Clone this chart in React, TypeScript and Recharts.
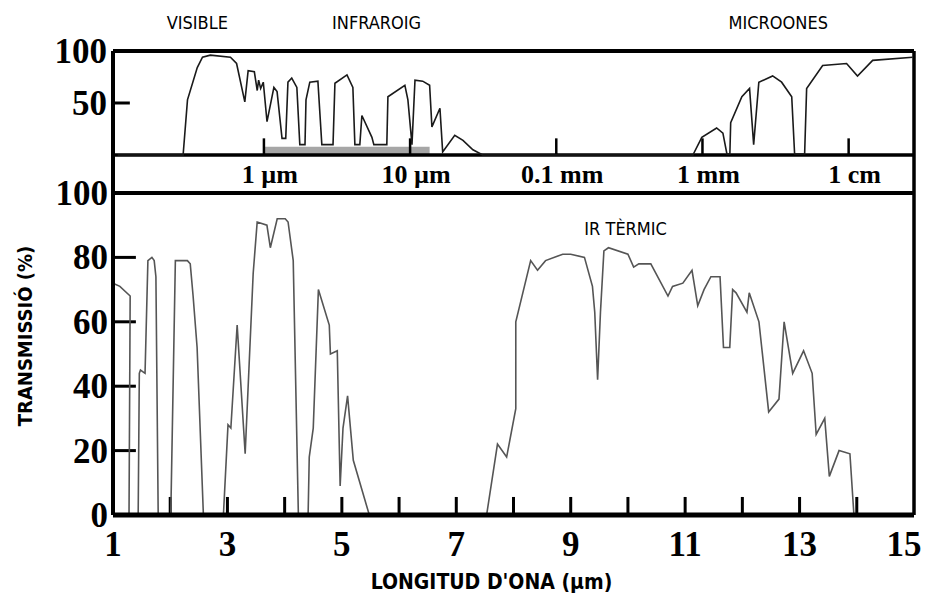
import React from "react"
import { ComposedChart, Line, XAxis, YAxis, ReferenceLine, ReferenceArea, ReferenceDot } from "recharts"

const SERIF = '"Liberation Serif", "Times New Roman", "DejaVu Serif", serif'
const NARROW = '"DejaVu Sans Condensed", "Liberation Sans Narrow", "Open Sans", sans-serif'
const INK = "#000"

// top panel: whole spectrum (µm, log scale)
const topWavelength = [
  0.1, 0.28, 0.3, 0.35, 0.38, 0.43, 0.59, 0.65, 0.74, 0.78, 0.86, 0.9, 0.92, 0.95, 0.99, 1.05, 1.17, 1.23, 1.33,
  1.41, 1.46, 1.55, 1.68, 1.76, 1.91, 1.94, 2.06, 2.34, 2.49, 2.97, 3.06, 3.7, 4.06, 4.19, 4.53, 4.68, 5.48, 5.65,
  6.93, 7.05, 9.21, 9.66, 10.3, 10.8, 12.2, 13.6, 14.1, 16.0, 16.7, 20.2, 23.0, 26.9, 31.4, 860, 990, 1250, 1380,
  1470, 1540, 1560, 1860, 2100, 2240, 2430, 3020, 3480, 4080, 4270, 5000, 5160, 6640, 9680, 11500, 14600, 27400,
]
const topTransmission = [
  0, 0, 53, 84, 94, 96, 94, 88, 51, 81, 80, 62, 72, 64, 70, 32, 65, 61, 16, 16, 70, 74, 65, 10, 10, 53, 70, 71, 10,
  10, 69, 77, 65, 10, 10, 38, 17, 10, 10, 56, 67, 53, 10, 72, 71, 67, 27, 45, 3, 19, 14, 5, 0, 0, 17, 26, 21, 1, 1,
  31, 56, 64, 10, 70, 76, 70, 56, 1, 1, 64, 86, 88, 76, 91, 94,
]
const topYTicks = [50, 100]
const scaleTicks = [1, 10, 100, 1000, 10000]
const scaleLabels = ["1 µm", "10 µm", "0.1 mm", "1 mm", "1 cm"]
const bandNames = ["VISIBLE", "INFRAROIG", "MICROONES"]
const bandCenters = [0.35, 5.9, 3300]
const highlight = [1, 13.6] // grey bar: range of the lower panel

// bottom panel: 1-15 µm
const bottomWavelength = [
  1.0, 1.12, 1.3, 1.28, 1.44, 1.46, 1.48, 1.56, 1.61, 1.68, 1.72, 1.75, 1.79, 2.01, 2.09, 2.3, 2.35, 2.4, 2.47, 2.58,
  2.93, 3.01, 3.06, 3.17, 3.31, 3.45, 3.52, 3.69, 3.75, 3.87, 4.01, 4.06, 4.15, 4.24, 4.41, 4.43, 4.5, 4.59, 4.78,
  4.8, 4.92, 4.97, 5.02, 5.1, 5.2, 5.48, 7.53, 7.72, 7.88, 8.04, 8.04, 8.3, 8.42, 8.56, 8.86, 9.0, 9.24, 9.38, 9.42,
  9.47, 9.52, 9.58, 9.66, 10.0, 10.1, 10.19, 10.4, 10.7, 10.78, 10.96, 11.12, 11.22, 11.33, 11.45, 11.61, 11.67,
  11.78, 11.83, 11.89, 12.08, 12.12, 12.29, 12.46, 12.64, 12.73, 12.88, 13.07, 13.22, 13.29, 13.44, 13.52, 13.69,
  13.88, 13.95, 15.0,
]
const bottomTransmission = [
  72, 71, 68, 0, 0, 44, 45, 44, 79, 80, 79, 74, 0, 0, 79, 79, 78, 68, 52, 0, 0, 28, 27, 59, 19, 75, 91, 90, 83, 92,
  92, 91, 79, 0, 0, 18, 27, 70, 59, 50, 51, 9, 27, 37, 17, 0, 0, 22, 18, 33, 60, 79, 76, 79, 81, 81, 80, 71, 63, 42,
  63, 82, 83, 81, 77, 78, 78, 68, 71, 72, 76, 65, 70, 74, 74, 52, 52, 70, 69, 63, 69, 60, 32, 36, 60, 44, 51, 44, 25,
  30, 12, 20, 19, 0, 0,
]
const xTicks = [1, 2, 3, 4, 5, 6, 7, 8, 9, 10, 11, 12, 13, 14, 15]
const yTicks = [0, 20, 40, 60, 80, 100]

const topData = topWavelength.map((um, i) => ({ um, t: topTransmission[i] }))
const bottomData = bottomWavelength.map((um, i) => ({ um, t: bottomTransmission[i] }))

// both panels share one plot area; each panel's y axis is stretched so it lands in its own band
const TOP_X: [number, number] = [0.0928, 28000]
const TOP_Y: [number, number] = [-346.2, 100]
const BOTTOM_Y: [number, number] = [0, 144.1]

const numStyle = { fontFamily: SERIF, fontWeight: 700, fontSize: 35, fill: INK }
const narrowText = { fontFamily: NARROW, fontStretch: "condensed" as const, fill: INK }

function LeftTick(props: any) {
  const { x, y, payload } = props
  return (
    <text x={x - 5} y={y + 12} textAnchor="end" style={numStyle}>
      {payload.value}
    </text>
  )
}

function BottomTick(props: any) {
  const { x, y, payload } = props
  const v = payload.value
  if (v % 2 !== 1) return <g />
  const last = v === xTicks[xTicks.length - 1]
  return (
    <text x={x} dx={last ? -10 : 0} y={y + 41} textAnchor="middle" style={numStyle}>
      {v}
    </text>
  )
}

// log-axis labels sit in the strip under the top panel
function ScaleTick(props: any) {
  const { x, y, payload } = props
  const label = scaleLabels[scaleTicks.indexOf(payload.value)]
  return (
    <text x={x} dx={6} y={y + 132} textAnchor="middle" style={{ fontFamily: SERIF, fontWeight: 700, fontSize: 26, fill: INK }}>
      {label}
    </text>
  )
}

function YTitle(props: any) {
  const { viewBox } = props
  const cx = viewBox.x + viewBox.width - 88
  const cy = viewBox.y + viewBox.height / 2 + 53
  return (
    <text
      x={cx}
      y={cy}
      transform={`rotate(-90 ${cx} ${cy})`}
      textAnchor="middle"
      dominantBaseline="central"
      style={{ ...narrowText, fontWeight: 700, fontSize: 20 }}
    >
      TRANSMISSIÓ (%)
    </text>
  )
}

function XTitle(props: any) {
  const { viewBox } = props
  return (
    <text x={viewBox.x + viewBox.width / 2 - 22} y={viewBox.y + 74} textAnchor="middle" style={{ ...narrowText, fontWeight: 700, fontSize: 21 }}>
      LONGITUD D'ONA (µm)
    </text>
  )
}

export default function App() {
  return (
    <div style={{ position: "absolute", left: 0, top: 0, width: 926, height: 594, background: "#fff" }}>
      <ComposedChart width={926} height={594} data={bottomData} margin={{ top: 50, right: 12, bottom: 78, left: 111 }}>
        <XAxis
          dataKey="um"
          type="number"
          domain={[1, 15]}
          ticks={xTicks}
          interval={0}
          height={1}
          tickSize={0}
          tickMargin={0}
          tickLine={false}
          axisLine={{ stroke: INK, strokeWidth: 5 }}
          tick={<BottomTick />}
          label={<XTitle />}
        />
        <XAxis
          xAxisId="log"
          orientation="top"
          dataKey="um"
          type="number"
          scale="log"
          domain={TOP_X}
          ticks={scaleTicks}
          interval={0}
          height={1}
          tickSize={0}
          tickMargin={0}
          tickLine={false}
          axisLine={{ stroke: INK, strokeWidth: 4 }}
          tick={<ScaleTick />}
        />
        <YAxis
          dataKey="t"
          type="number"
          domain={BOTTOM_Y}
          ticks={yTicks}
          interval={0}
          width={1}
          tickSize={0}
          tickMargin={0}
          tickLine={false}
          axisLine={{ stroke: INK, strokeWidth: 4 }}
          tick={<LeftTick />}
          label={<YTitle />}
        />
        <YAxis
          yAxisId="top"
          dataKey="t"
          type="number"
          domain={TOP_Y}
          ticks={topYTicks}
          interval={0}
          width={1}
          tickSize={0}
          tickMargin={0}
          tickLine={false}
          axisLine={false}
          tick={<LeftTick />}
        />

        {/* frame lines */}
        <ReferenceLine y={100} stroke={INK} strokeWidth={4} ifOverflow="visible" />
        <ReferenceLine x={15} stroke={INK} strokeWidth={3.5} ifOverflow="visible" />
        <ReferenceLine xAxisId="log" yAxisId="top" y={0} stroke={INK} strokeWidth={3.5} ifOverflow="visible" />

        {/* inward tick marks, started just off the axis line */}
        {scaleTicks.map((v) => (
          <ReferenceLine key={`s${v}`} xAxisId="log" yAxisId="top" segment={[{ x: v, y: 0 }, { x: v, y: 16 }]} stroke={INK} strokeWidth={2.5} ifOverflow="visible" />
        ))}
        <ReferenceLine xAxisId="log" yAxisId="top" segment={[{ x: 0.095, y: 50 }, { x: 0.121, y: 50 }]} stroke={INK} strokeWidth={3} ifOverflow="visible" />
        {xTicks.slice(1, -1).map((v) => (
          <ReferenceLine key={`x${v}`} segment={[{ x: v, y: 0.3 }, { x: v, y: 5.6 }]} stroke={INK} strokeWidth={3} ifOverflow="visible" />
        ))}
        {yTicks.slice(1, -1).map((v) => (
          <ReferenceLine key={`y${v}`} segment={[{ x: 1.02, y: v }, { x: 1.4, y: v }]} stroke={INK} strokeWidth={3} ifOverflow="visible" />
        ))}

        <Line xAxisId="log" yAxisId="top" data={topData} dataKey="t" type="linear" stroke="#1a1a1a" strokeWidth={1.6} dot={false} isAnimationActive={false} />
        <Line dataKey="t" type="linear" stroke="#555" strokeWidth={1.6} dot={false} isAnimationActive={false} />

        <ReferenceArea xAxisId="log" yAxisId="top" x1={highlight[0]} x2={highlight[1]} y1={-1} y2={8} fill="#a6a6a6" fillOpacity={1} stroke="none" ifOverflow="visible" />

        {bandNames.map((name, i) => (
          <ReferenceDot
            key={name}
            xAxisId="log"
            yAxisId="top"
            x={bandCenters[i]}
            y={127}
            r={0}
            fill="none"
            stroke="none"
            ifOverflow="visible"
            label={{ value: name, position: "center", fontSize: 18, fontFamily: NARROW, fill: INK }}
          />
        ))}
        <ReferenceDot
          x={9.96}
          y={89}
          r={0}
          fill="none"
          stroke="none"
          label={{ value: "IR TÈRMIC", position: "center", fill: INK, fontSize: 18, fontFamily: NARROW }}
        />
      </ComposedChart>
    </div>
  )
}
